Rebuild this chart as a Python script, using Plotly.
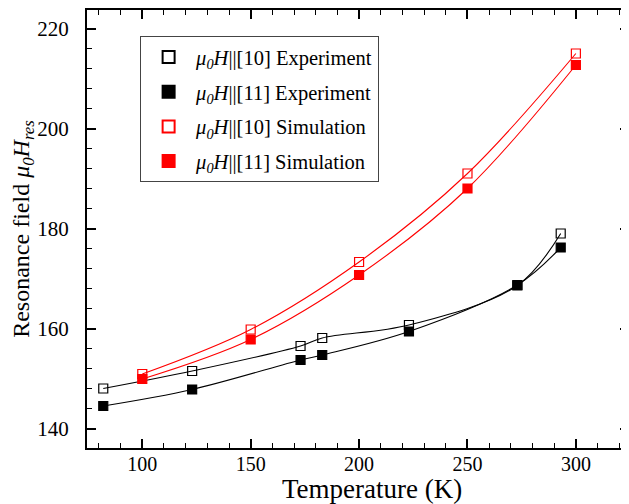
import plotly.graph_objects as go

# ---- data ----
temp_exp = [82, 123, 173, 183, 223, 273, 293]
h10_exp = [148.0, 151.5, 156.5, 158.1, 160.7, 168.6, 179.0]
h11_exp = [144.5, 147.8, 153.7, 154.7, 159.4, 168.7, 176.2]

temp_sim = [100, 150, 200, 250, 300]
h10_sim = [150.9, 159.8, 173.3, 191.0, 215.0]
h11_sim = [149.9, 157.8, 170.7, 188.0, 212.7]

series_names = [
    "<i>μ<sub>0</sub>H</i>||[10] Experiment",
    "<i>μ<sub>0</sub>H</i>||[11] Experiment",
    "<i>μ<sub>0</sub>H</i>||[10] Simulation",
    "<i>μ<sub>0</sub>H</i>||[11] Simulation",
]
x_title = "Temperature (K)"
y_title = "Resonance field <i>μ<sub>0</sub>H<sub>res</sub></i>"

FONT = "Liberation Serif"

series = [
    (temp_exp, h10_exp, "black", "square-open"),
    (temp_exp, h11_exp, "black", "square"),
    (temp_sim, h10_sim, "#ff0000", "square-open"),
    (temp_sim, h11_sim, "#ff0000", "square"),
]

fig = go.Figure()

# smooth connecting curves (no legend)
for (x, y, c, s) in series:
    fig.add_trace(go.Scatter(
        x=x, y=y, mode="lines", line=dict(color=c, width=1.1, shape="spline", smoothing=1.0),
        showlegend=False, hoverinfo="skip"))

# markers (legend)
for i, (x, y, c, s) in enumerate(series):
    fig.add_trace(go.Scatter(
        x=x, y=y, mode="markers", name=series_names[i], legendgroup=f"g{i}",
        marker=dict(symbol=s, size=9, color=c, line=dict(color=c, width=1.2))))

# right-side inward ticks without a border line
fig.add_trace(go.Scatter(x=[None], y=[None], yaxis="y2", showlegend=False, hoverinfo="skip"))

axis_common = dict(
    showgrid=False, zeroline=False, showline=True, linecolor="black", linewidth=2,
    ticks="inside", ticklen=9, tickwidth=1.6, tickcolor="black",
)

# the page adds an 8px body margin, so the figure is sized/offset to compensate
fig.update_layout(
    width=621, height=496,
    margin=dict(l=79, r=0, t=2, b=56),
    paper_bgcolor="white", plot_bgcolor="white",
    font=dict(family=FONT, color="black"),
    xaxis=dict(
        range=[74.5, 324.5], dtick=50, tick0=0, mirror="ticks",
        minor=dict(dtick=10, ticks="inside", ticklen=5, tickwidth=1.4, tickcolor="black"),
        tickfont=dict(family=FONT, size=20, color="black"),
        ticklabelstandoff=-3,
        automargin=False,
        **axis_common),
    yaxis=dict(
        range=[136.1, 223.7], dtick=20, tick0=0, mirror=False,
        minor=dict(dtick=4, ticks="inside", ticklen=5, tickwidth=1.4, tickcolor="black"),
        tickfont=dict(family=FONT, size=21, color="black"),
        ticklabelstandoff=12,
        title=dict(text=y_title, font=dict(family=FONT, size=24, color="black"), standoff=8),
        automargin=False,
        **axis_common),
    yaxis2=dict(
        overlaying="y", side="right", range=[136.1, 223.7], dtick=20, tick0=0,
        showgrid=False, zeroline=False, showline=False, showticklabels=False,
        ticks="inside", ticklen=9, tickwidth=1.6, tickcolor="black",
        minor=dict(dtick=4, ticks="inside", ticklen=5, tickwidth=1.4, tickcolor="black"),
    ),
    legend=dict(
        x=0.098, y=0.94, xanchor="left", yanchor="top",
        bgcolor="white", bordercolor="#444", borderwidth=1,
        font=dict(family=FONT, size=20.5, color="black"),
        tracegroupgap=5, itemsizing="constant", itemwidth=45,
    ),
    annotations=[dict(
        text=x_title, xref="paper", yref="paper", x=0.526, y=-0.093,
        xanchor="center", yanchor="middle", showarrow=False,
        font=dict(family=FONT, size=27, color="black"))],
)

fig.write_html("out.html")
